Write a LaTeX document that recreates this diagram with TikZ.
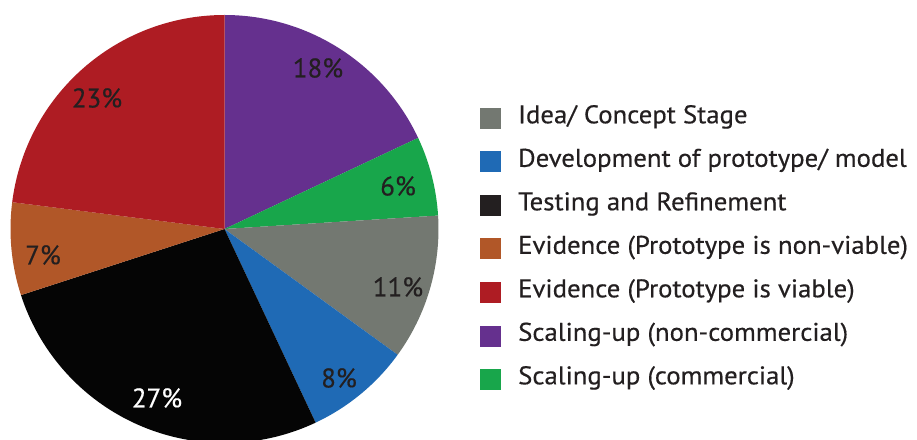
\documentclass[tikz,border=0pt]{standalone}
\usepackage{fontspec}
\setmainfont{PT Sans}[FakeBold=0.4]
\newfontfamily\legfont{PT Sans}[FakeStretch=1.05,FakeBold=0.4]
\definecolor{cgray}{HTML}{737871}
\definecolor{cblue}{HTML}{1F6AB5}
\definecolor{cblack}{HTML}{050505}
\definecolor{corange}{HTML}{B15728}
\definecolor{cred}{HTML}{AE1C23}
\definecolor{cpurple}{HTML}{65308E}
\definecolor{cgreen}{HTML}{18A64B}
\definecolor{ctext}{HTML}{231F20}
\tikzset{
  pct/.style={font=\fontsize{27}{27}\selectfont, text=ctext, inner sep=0pt},
  legsq/.style={minimum size=21pt, inner sep=0pt},
  legtxt/.style={font=\legfont\fontsize{25.5}{25.5}\selectfont, text=ctext, inner sep=0pt, anchor=base west},
}
\newcommand{\slice}[3]{\fill[#1] (224.5,210) -- ++(#2:214) arc[start angle=#2, end angle=#3, radius=214] -- cycle;}
\begin{document}
\begin{tikzpicture}[x=1pt,y=1pt]
\useasboundingbox (0,0) rectangle (917,439);
\fill[white] (0,0) rectangle (917,439);
\begin{scope}
\clip (0,0) rectangle (917,439);
\slice{cpurple}{90}{25.2}
\slice{cgreen}{25.2}{3.6}
\slice{cgray}{3.6}{-36}
\slice{cblue}{-36}{-64.8}
\slice{cblack}{-64.8}{-162}
\slice{corange}{-162}{-187.2}
\slice{cred}{-187.2}{-270}
\end{scope}
\node[pct] (p18) at (318,371) {18\%};
\node[pct] (p6) at (398,253) {6\%};
\node[pct] (p11) at (398,152) {11\%};
\node[pct] (p8) at (339,61) {8\%};
\node[pct, text=white] (p27) at (157,41) {27\%};
\node[pct] (p7) at (43,184) {7\%};
\node[pct] (p23) at (97,341) {23\%};
% legend
\foreach \c/\t [count=\i from 0] in {cgray/{Idea/ Concept Stage},
  cblue/{Development of prototype/ model},
  ctext/{Testing and Refinement},
  corange/{Evidence (Prototype is non-viable)},
  cred/{Evidence (Prototype is viable)},
  cpurple/{Scaling-up (non-commercial)},
  cgreen/{Scaling-up (commercial)}}{
  \node[legsq, fill=\c] (sq\i) at (490.5, 320.5-43.5*\i) {};
  \node[legtxt] (lt\i) at (518, 315.7-43.5*\i) {\t};
}
\end{tikzpicture}
\end{document}
